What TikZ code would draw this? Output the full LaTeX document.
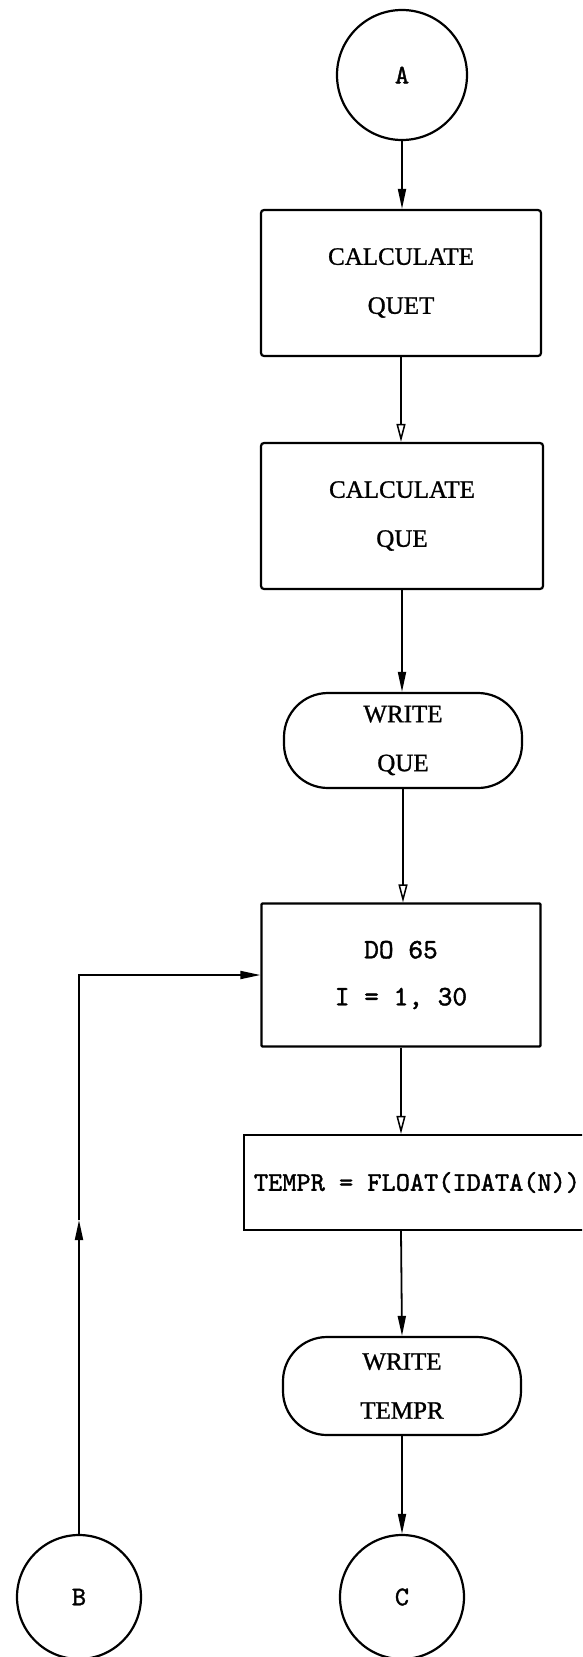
\documentclass[tikz,border=0pt]{standalone}
\usepackage{fontspec}
\newfontfamily\scanserif{Liberation Serif}[FakeBold=1]
\newfontfamily\scanmono{lmmono10-regular.otf}[FakeBold=1.5]
\usetikzlibrary{arrows.meta}
\begin{document}
\begin{tikzpicture}[x=1pt,y=-1pt,
  conn/.style={line width=1.8pt},
  fa/.style={conn,-{Triangle[length=20pt,width=8pt]}},
  ha/.style={conn,-{Triangle[open,length=18pt,width=9pt,line width=1.5pt]}},
  proc/.style={draw, line width=2.2pt, rounded corners=3pt, inner sep=0pt},
  term/.style={draw, line width=2.2pt, rounded corners=44pt, inner sep=0pt},
  conncirc/.style={draw, circle, line width=2.2pt, inner sep=0pt},
  serif/.style={font=\scanserif\fontsize{25}{49}\selectfont, align=center},
  mono/.style={font=\scanmono\fontsize{28}{47}\selectfont, align=center},
  lett/.style={font=\scanmono\fontsize{27}{30}\selectfont},
]
\useasboundingbox (0,0) rectangle (582,1657);
\fill[white] (0,0) rectangle (582,1657);
\clip (0,0) rectangle (582,1657);

\node[conncirc, lett, minimum size=130pt] (A) at (402,75) {A};
\node[proc, serif, minimum width=280pt, minimum height=146pt] (b1) at (401,283) {CALCULATE\\QUET};
\node[proc, serif, minimum width=282pt, minimum height=146pt] (b2) at (402,516) {CALCULATE\\QUE};
\node[term, serif, minimum width=238pt, minimum height=95pt] (w1) at (403,740.5) {WRITE\\QUE};
\node[proc, mono, rounded corners=1pt, minimum width=279pt, minimum height=143pt] (do) at (401,975) {DO 65\\I = 1, 30};
\node[draw, line width=2.2pt, inner sep=0pt, minimum width=346pt, minimum height=95pt,
  font=\scanmono\fontsize{27}{30}\selectfont] (fl) at (417,1182.5) {TEMPR = FLOAT(IDATA(N))};
\node[term, serif, minimum width=238pt, minimum height=98pt] (w2) at (402,1386) {WRITE\\TEMPR};
\node[conncirc, lett, minimum size=124pt] (B) at (79,1597) {B};
\node[conncirc, lett, minimum size=124pt] (C) at (402,1597) {C};
\coordinate (up) at (79,1220);

\draw[fa] (A.south) -- (A.south |- b1.north);
\draw[ha] (b1.south) -- (b1.south |- b2.north);
\draw[fa] (b2.south) -- (b2.south |- w1.north);
\draw[ha] (w1.south) -- (w1.south |- do.north);
\draw[ha] (do.south) -- (do.south |- fl.north);
\draw[fa] (do.south |- fl.south) -- (w2.north);
\draw[fa] (w2.south) -- (C.north);
\draw[fa] (B.north) -- (up);
\draw[fa] (up) |- (do.west);
\end{tikzpicture}
\end{document}
